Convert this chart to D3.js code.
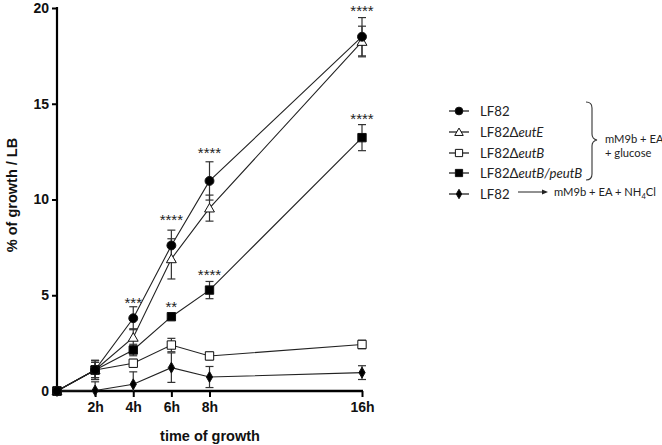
<!DOCTYPE html>
<html><head><meta charset="utf-8">
<script src="https://cdn.jsdelivr.net/npm/d3@7"></script>
<style>body{margin:0;background:#fff}svg{display:block}</style>
</head><body>
<script>
// ---- data ----
const hours = [0, 2, 4, 6, 8, 16];
const xTickLabels = ["2h", "4h", "6h", "8h", "16h"];
const xTickValues = [2, 4, 6, 8, 16];
const yTicks = [0, 5, 10, 15, 20];

const seriesNames = ["LF82", "LF82ΔeutE", "LF82ΔeutB", "LF82ΔeutB/peutB", "LF82"];
const lf82 = [0, 1.1, 3.8, 7.6, 10.97, 18.5];
const lf82Err = [0.15, 0.5, 0.6, 0.8, 1.0, 1.0];
const eutE = [0, 1.1, 2.8, 6.9, 9.55, 18.25];
const eutEErr = [0.15, 0.5, 0.45, 1.05, 0.68, 0.8];
const eutB = [0, 1.1, 1.45, 2.4, 1.83, 2.43];
const eutBErr = [0.15, 0.4, 0.2, 0.35, 0.2, 0.22];
const peutB = [0, 1.1, 2.14, 3.88, 5.27, 13.23];
const peutBErr = [0.15, 0.4, 0.3, 0.1, 0.45, 0.68];
const nh4 = [0, 0.03, 0.35, 1.22, 0.73, 0.96];
const nh4Err = [0.1, 0.45, 0.65, 0.77, 0.55, 0.36];

// significance annotations: [hour, y value, label]
const starHours = [4, 6, 8, 16, 6, 8, 16];
const starValues = [4.8, 9.15, 12.65, 20.05, 4.6, 6.25, 14.4];
const starLabels = ["***", "****", "****", "****", "**", "****", "****"];

// ---- layout ----
const W = 662, H = 445;
const svg = d3.select("body").append("svg").attr("width", W).attr("height", H);
const x = d3.scaleLinear().domain([0, 16]).range([57, 362]);
const y = d3.scaleLinear().domain([0, 20]).range([391, 8]);

const series = [
  {vals: lf82, err: lf82Err, sym: d3.symbolCircle, size: 62, fill: "#000"},
  {vals: eutE, err: eutEErr, sym: d3.symbolTriangle, size: 42, fill: "#fff"},
  {vals: eutB, err: eutBErr, sym: d3.symbolSquare, size: 70, fill: "#fff"},
  {vals: peutB, err: peutBErr, sym: d3.symbolSquare, size: 70, fill: "#000"},
  {vals: nh4, err: nh4Err, sym: d3.symbolDiamond, size: 34, fill: "#000"}
];

// axes
const yAxis = d3.axisLeft(y).tickValues(yTicks).tickSize(5).tickPadding(3).tickFormat(d3.format("d"));
const gy = svg.append("g").attr("transform", "translate(57,0)").call(yAxis);
gy.select(".domain").attr("stroke-width", 2.2).attr("d", "M0,7V392");
gy.selectAll(".tick line").attr("stroke-width", 2);
gy.selectAll("text").attr("font-family", "Liberation Sans, Arial, sans-serif")
  .attr("font-weight", "bold").attr("font-size", 14).attr("fill", "#111");

const xAxis = d3.axisBottom(x).tickValues(xTickValues).tickSize(6).tickPadding(5)
  .tickFormat((d, i) => xTickLabels[i]);
const gx = svg.append("g").attr("transform", "translate(0,391)").call(xAxis);
gx.select(".domain").attr("stroke-width", 2.4).attr("d", "M56,0H363");
gx.selectAll(".tick line").attr("stroke-width", 2);
gx.selectAll("text").attr("font-family", "Liberation Sans, Arial, sans-serif")
  .attr("font-weight", "bold").attr("font-size", 14).attr("fill", "#111");

svg.append("text").attr("x", 210).attr("y", 441).attr("text-anchor", "middle")
  .attr("font-family", "Liberation Sans, Arial, sans-serif").attr("font-weight", "bold")
  .attr("font-size", 14.5).attr("fill", "#111").text("time of growth");
svg.append("text").attr("transform", "translate(17,195) rotate(-90)").attr("text-anchor", "middle")
  .attr("font-family", "Liberation Sans, Arial, sans-serif").attr("font-weight", "bold")
  .attr("font-size", 14.5).attr("fill", "#111").text("% of growth / LB");

// lines
const line = d3.line().x((d, i) => x(hours[i])).y(d => y(d));
const gl = svg.append("g");
series.forEach(s => {
  gl.append("path").attr("d", line(s.vals)).attr("fill", "none")
    .attr("stroke", "#222").attr("stroke-width", 1.1);
});

// error bars
const ge = svg.append("g").attr("stroke", "#333").attr("stroke-width", 1.2);
series.forEach(s => {
  s.vals.forEach((v, i) => {
    const cx = x(hours[i]);
    const y1 = y(v + s.err[i]), y2 = y(Math.max(v - s.err[i], 0));
    ge.append("line").attr("x1", cx).attr("x2", cx).attr("y1", y1).attr("y2", y2);
    ge.append("line").attr("x1", cx - 4).attr("x2", cx + 4).attr("y1", y1).attr("y2", y1);
    if (v - s.err[i] > 0)
      ge.append("line").attr("x1", cx - 4).attr("x2", cx + 4).attr("y1", y2).attr("y2", y2);
  });
});

// markers
const gm = svg.append("g");
[2, 1, 3, 4, 0].forEach(k => {
  const s = series[k];
  s.vals.forEach((v, i) => {
    gm.append("path").attr("d", d3.symbol().type(s.sym).size(s.size)())
      .attr("transform", `translate(${x(hours[i])},${y(v) + (s.sym === d3.symbolTriangle ? 1 : 0)})`)
      .attr("fill", s.fill).attr("stroke", "#111").attr("stroke-width", 1);
  });
});

// stars
starLabels.forEach((t, i) => {
  svg.append("text").attr("x", x(starHours[i])).attr("y", y(starValues[i]) + 9)
    .attr("text-anchor", "middle").attr("font-family", "Liberation Sans, Arial, sans-serif")
    .attr("font-size", 15).attr("fill", "#222").text(t);
});

// legend
const legY = [111, 132, 153, 173, 194];
const lg = svg.append("g");
series.forEach((s, i) => {
  lg.append("line").attr("x1", 449).attr("x2", 469).attr("y1", legY[i]).attr("y2", legY[i])
    .attr("stroke", "#111").attr("stroke-width", 1.2);
  lg.append("path").attr("d", d3.symbol().type(s.sym).size(s.size * 0.75)())
    .attr("transform", `translate(459,${legY[i] + (s.sym === d3.symbolTriangle ? 1 : 0)})`)
    .attr("fill", s.fill).attr("stroke", "#111").attr("stroke-width", 1);
});
const lfont = "Lato, 'Open Sans', sans-serif";
function legText(i) {
  const t = lg.append("text").attr("x", 480).attr("y", legY[i] + 5)
    .attr("font-family", lfont).attr("font-size", 13.2).attr("fill", "#222");
  return t;
}
legText(0).text("LF82");
{ const t = legText(1); t.append("tspan").text("LF82Δ"); t.append("tspan").attr("font-style", "italic").text("eutE"); }
{ const t = legText(2); t.append("tspan").text("LF82Δ"); t.append("tspan").attr("font-style", "italic").text("eutB"); }
{ const t = legText(3); t.append("tspan").text("LF82Δ"); t.append("tspan").attr("font-style", "italic").text("eutB/peutB"); }
legText(4).text("LF82");

// brace
svg.append("path").attr("d", "M586,102 Q592,102 592,108 L592,134 Q592,139 597,140 Q592,141 592,146 L592,174 Q592,180 586,180")
  .attr("fill", "none").attr("stroke", "#333").attr("stroke-width", 1.1);
const afont = 11.2;
svg.append("text").attr("x", 605).attr("y", 143).attr("font-family", lfont).attr("font-size", afont)
  .attr("fill", "#222").text("mM9b + EA");
svg.append("text").attr("x", 605).attr("y", 157).attr("font-family", lfont).attr("font-size", afont)
  .attr("fill", "#222").text("+ glucose");
// arrow
svg.append("line").attr("x1", 518).attr("x2", 544).attr("y1", 192).attr("y2", 192)
  .attr("stroke", "#222").attr("stroke-width", 1);
svg.append("path").attr("d", "M548,192 L542,189.5 L542,194.5 Z").attr("fill", "#222");
{
  const t = svg.append("text").attr("x", 554).attr("y", 196).attr("font-family", lfont)
    .attr("font-size", afont).attr("fill", "#222");
  t.append("tspan").text("mM9b + EA + NH");
  t.append("tspan").attr("font-size", 7.5).attr("dy", 3).text("4");
  t.append("tspan").attr("dy", -3).text("Cl");
}
</script>
</body></html>
